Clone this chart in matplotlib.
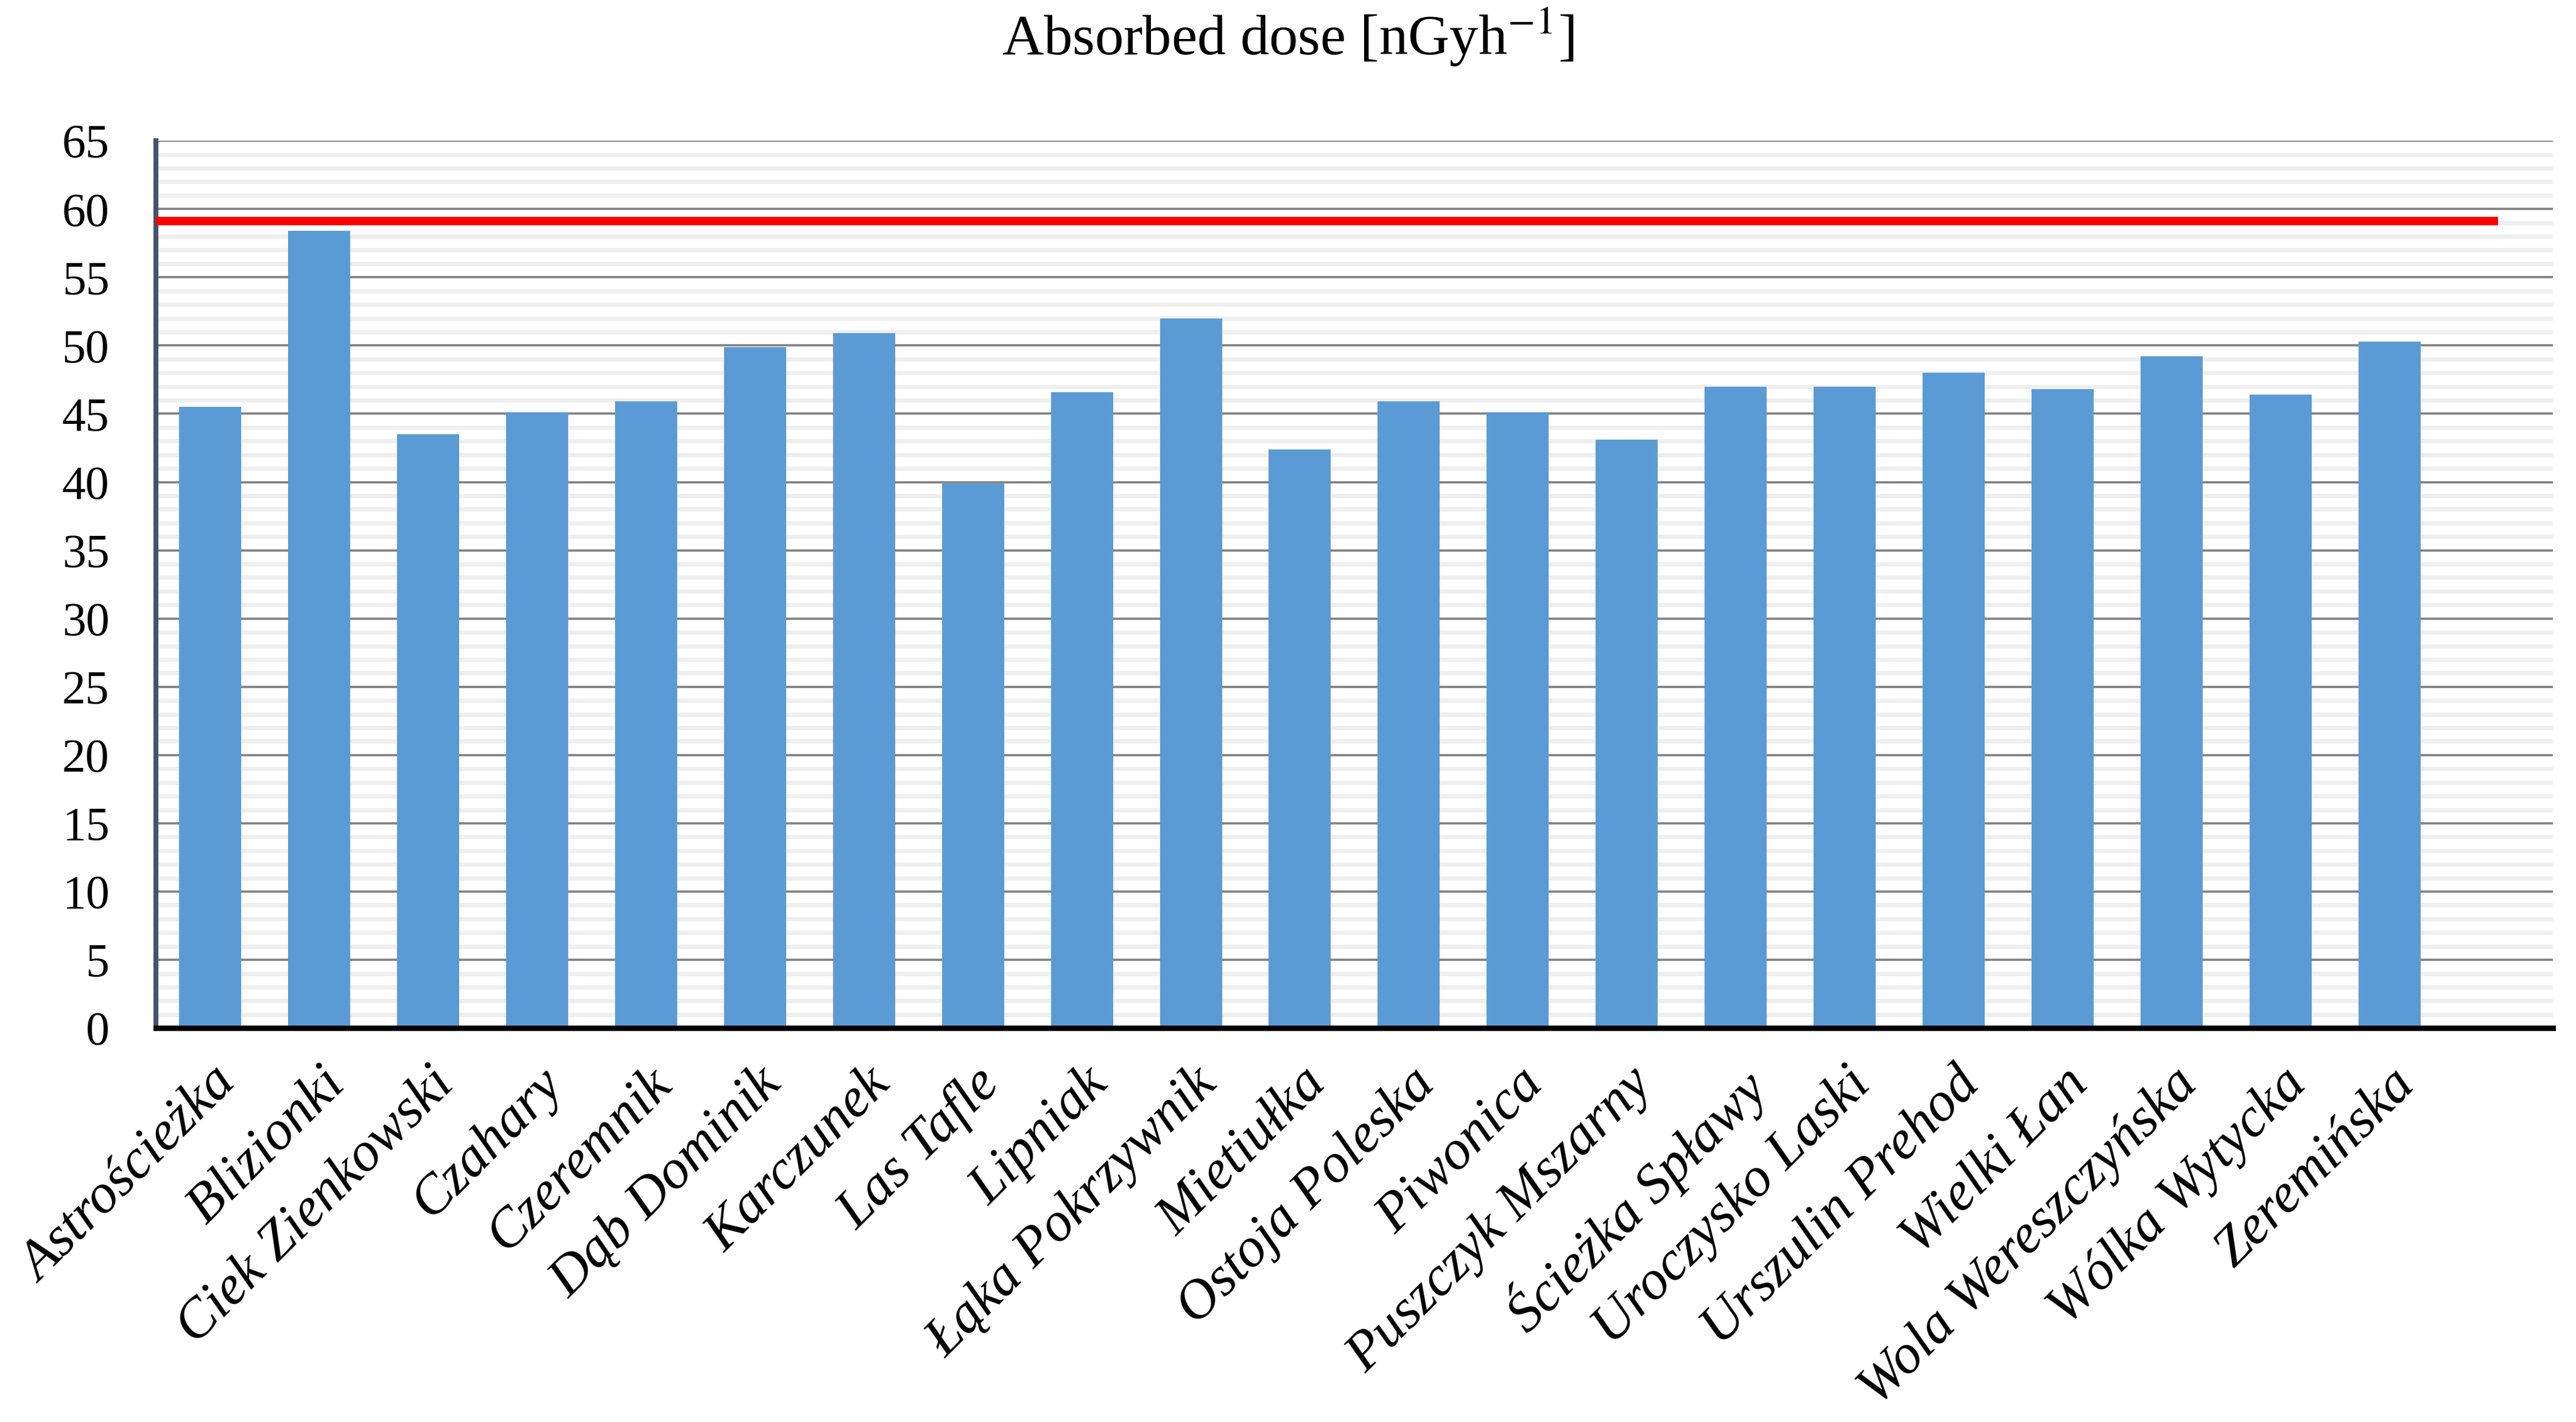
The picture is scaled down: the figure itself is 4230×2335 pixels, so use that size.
import numpy as np
import matplotlib
matplotlib.use("Agg")
import matplotlib.pyplot as plt
from matplotlib.ticker import MultipleLocator

# data
sites = ['Astrościeżka', 'Blizionki', 'Ciek Zienkowski', 'Czahary', 'Czeremnik',
         'Dąb Dominik', 'Karczunek', 'Las Tafle', 'Lipniak', 'Łąka Pokrzywnik',
         'Mietiułka', 'Ostoja Poleska', 'Piwonica', 'Puszczyk Mszarny',
         'Ścieżka Spławy', 'Uroczysko Laski', 'Urszulin Prehod', 'Wielki Łan',
         'Wola Wereszczyńska', 'Wólka Wytycka', 'Zeremińska']
dose = [45.5, 58.4, 43.5, 45.1, 45.9, 49.9, 50.9, 39.9, 46.6, 52.0, 42.4,
        45.9, 45.1, 43.1, 47.0, 47.0, 48.0, 46.8, 49.2, 46.4, 50.3]
reference_level = 59.1
y_ticks = list(range(0, 66, 5))

plt.rcParams['font.family'] = ['Liberation Serif', 'DejaVu Serif']
plt.rcParams['mathtext.fontset'] = 'stix'

fig = plt.figure(figsize=(42.3, 23.35), dpi=100)
ax = fig.add_axes([0.0605, 0.277, 0.9305, 0.624])

x = np.arange(len(sites))
ax.bar(x, dose, width=0.57, color='#5B9BD5', zorder=3)

# red reference line
ax.hlines(reference_level, -0.5, len(sites), color='#FF0000', linewidth=10, zorder=4)

ax.set_xlim(-0.5, len(sites) + 0.5)
ax.set_ylim(0, 65)
ax.set_yticks(y_ticks)
ax.yaxis.set_minor_locator(MultipleLocator(1))
ax.grid(which='minor', axis='y', color='#efefef', linewidth=5, zorder=0)
ax.grid(which='major', axis='y', color='#808080', linewidth=2.6, zorder=1)

ax.spines['top'].set_visible(False)
ax.spines['right'].set_visible(False)
ax.spines['left'].set_color('#44546A')
ax.spines['left'].set_linewidth(5.8)
ax.spines['bottom'].set_color('black')
ax.spines['bottom'].set_linewidth(6.5)
ax.spines['bottom'].set_zorder(5)

ax.tick_params(axis='y', which='both', length=0, pad=55, labelsize=56)
ax.tick_params(axis='x', length=0, pad=36)
ax.set_xticks(x)
ax.set_xticklabels(sites, rotation=45, ha='right', va='top', rotation_mode='anchor',
                   fontsize=66, fontstyle='italic')

fig.text(0.5, 1 - 90 / 2335, r'Absorbed dose [nGyh$^{-1}$]', ha='center', va='baseline',
         fontsize=68)

fig.savefig('out.png', dpi=100)
